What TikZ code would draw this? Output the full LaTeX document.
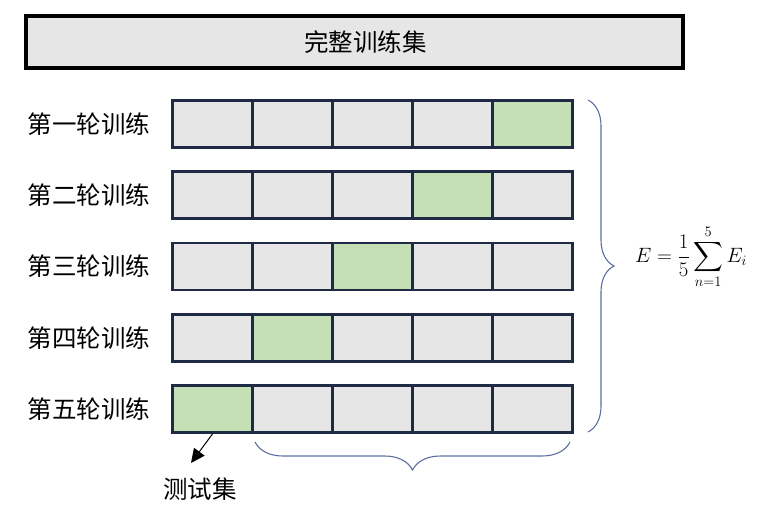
\documentclass[tikz,border=0pt]{standalone}
\usepackage{amsmath}
\usepackage{fontspec}
\newfontfamily\cjk{Noto Sans CJK SC}
\usepackage{tikz}
\usetikzlibrary{arrows.meta,decorations.pathreplacing}
\definecolor{cellgrey}{HTML}{E6E6E6}
\definecolor{cellgreen}{HTML}{C5E0B4}
\definecolor{cellline}{HTML}{1F2B45}
\definecolor{bracecol}{HTML}{5B6FA0}
\tikzstyle{cell}=[
        draw=cellline,
        line width=2.8pt,
        fill=cellgrey,
        minimum width=80pt,
        minimum height=47pt,
        inner sep=0pt
]
\tikzstyle{testcell}=[
        cell,
        fill=cellgreen
]
\tikzstyle{rowlabel}=[
        font=\cjk\fontsize{24.5}{28}\selectfont
]
\tikzstyle{bracket}=[
        draw=bracecol,
        line width=1.1pt,
        decorate,
        decoration={brace,amplitude=26pt}
]

\begin{document}
\begin{tikzpicture}[x=1pt,y=-1pt]
                        \useasboundingbox (0,0) rectangle (757,519);

                        \node[draw=black, line width=3.6pt, fill=cellgrey, minimum width=657pt, minimum height=52pt, rowlabel] (full) at (354.5,42) {\hspace*{22pt}完整训练集};

                        \foreach \r/\rnd in {1/一,2/二,3/三,4/四,5/五} {
                            \node[rowlabel] (lab\r) at (89,{124+71.25*(\r-1)}) {第\rnd 轮训练};
                            \foreach \k in {1,...,5} {
                                \pgfmathtruncatemacro{\t}{(\r+\k==6) ? 1 : 0}
                                \ifnum\t=1 \def\sty{testcell}\else\def\sty{cell}\fi
                                \node[\sty] (c\r\k) at ({212.5+80*(\k-1)},{124+71.25*(\r-1)}) {};
                            }
                        }

                        % braces
                        \coordinate (rtop) at (588,100);
                        \coordinate (rbot) at (588,432);
                        \draw[bracket] (rtop) -- (rbot);
                        \coordinate (bright) at (570,442);
                        \coordinate (bleft) at (255,442);
                        \draw[bracket, decoration={amplitude=28pt}] (bright) -- (bleft);

                        \node[font=\fontsize{21}{25}\selectfont] (avg) at (691,257) {$\displaystyle E=\frac{1}{5}\sum_{n=1}^{5}E_i$};

                        \node[rowlabel] (test) at (200,489) {测试集};
                        \coordinate (testtip) at (191,463);
                        \draw[line width=1pt, -{Triangle[length=14pt,width=13pt]}] (c51.south) -- (testtip);
\end{tikzpicture}
\end{document}
